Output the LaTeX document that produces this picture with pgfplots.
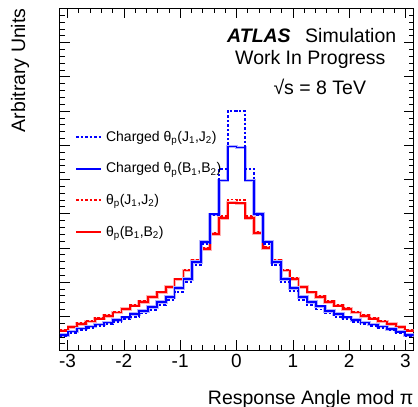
\documentclass[border=0pt]{standalone}
\usepackage{fontspec}
\setmainfont{Liberation Sans}
\usepackage{pgfplots}
\pgfplotsset{compat=1.18}
\usepackage{pgfplotstable}

\pgfplotstableread{
x        bj    bb    rj    rb
-3.14159 0.41  0.46  0.60  0.58
-2.98451 0.50  0.555 0.70  0.68
-2.82743 0.59  0.64  0.80  0.78
-2.67035 0.65  0.70  0.87  0.85
-2.51327 0.71  0.76  0.95  0.93
-2.35619 0.77  0.82  1.03  1.01
-2.19911 0.84  0.89  1.13  1.11
-2.04204 0.91  0.97  1.23  1.21
-1.88496 0.99  1.06  1.33  1.31
-1.72788 1.08  1.15  1.44  1.42
-1.57080 1.19  1.27  1.58  1.56
-1.41372 1.32  1.41  1.72  1.70
-1.25664 1.47  1.56  1.87  1.85
-1.09956 1.72  1.82  2.10  2.08
-0.94248 2.00  2.09  2.36  2.34
-0.78540 2.50  2.58  2.65  2.63
-0.62832 3.11  3.17  3.00  2.97
-0.47124 3.95  3.98  3.45  3.41
-0.31416 5.31  4.97  3.93  3.87
-0.15708 7.00  5.96  4.41  4.32
 0.00000 7.00  5.93  4.39  4.30
 0.15708 5.31  4.97  3.93  3.87
 0.31416 3.95  3.99  3.47  3.43
 0.47124 3.11  3.18  3.02  2.99
 0.62832 2.50  2.58  2.65  2.63
 0.78540 2.00  2.09  2.36  2.34
 0.94248 1.73  1.83  2.11  2.09
 1.09956 1.48  1.57  1.87  1.85
 1.25664 1.33  1.42  1.72  1.70
 1.41372 1.20  1.29  1.59  1.57
 1.57080 1.08  1.16  1.44  1.42
 1.72788 0.99  1.06  1.33  1.31
 1.88496 0.91  0.97  1.24  1.22
 2.04204 0.84  0.89  1.13  1.11
 2.19911 0.77  0.82  1.03  1.01
 2.35619 0.71  0.76  0.95  0.93
 2.51327 0.65  0.70  0.87  0.85
 2.67035 0.59  0.63  0.79  0.77
 2.82743 0.50  0.55  0.70  0.68
 2.98451 0.41  0.46  0.60  0.58
 3.14159 0.41  0.46  0.60  0.58
}\hist

\begin{document}
\begin{tikzpicture}
\path[use as bounding box] (-59.5pt,-56.5pt) rectangle (358.5pt,350.5pt);
\begin{axis}[
  at={(0pt,0pt)}, anchor=south west,
  scale only axis, width=354pt, height=342.2pt,
  xmin=-3.14159, xmax=3.14159, ymin=0, ymax=10,
  xtick={-3,-2,-1,0,1,2,3}, xticklabels={-3,-2,-1,0,1,2,3},
  minor x tick num=4,
  ytick={0,1,2,3,4,5,6,7,8,9,10}, yticklabels={}, minor y tick num=4,
  major tick length=10pt, minor tick length=5pt,
  tick style={black, line width=0.6pt},
  axis line style={line width=0.8pt},
  ticklabel style={font=\fontsize{19}{22}\selectfont},
  /pgf/number format/assume math mode=true,
  legend cell align=left,
  legend image code/.code={\draw[#1] (0pt,0pt) -- (25pt,0pt);},
  legend style={draw=none, fill=none, inner sep=0pt,
    at={(rel axis cs:0.044,0.646)}, anchor=north west,
    font=\fontsize{14}{16}\selectfont,
    row sep=17pt,
    nodes={inner sep=1.5pt},
    /tikz/every odd column/.append style={column sep=2.5pt}},
]
\addlegendimage{blue, line width=1.8pt, dash pattern=on 2.5pt off 2pt}
\addlegendentry{Charged θ\textsubscript{p}(J\textsubscript{1},J\textsubscript{2})}
\addlegendimage{blue, line width=1.8pt}
\addlegendentry{Charged θ\textsubscript{p}(B\textsubscript{1},B\textsubscript{2})}
\addlegendimage{red, line width=1.8pt, dash pattern=on 2.5pt off 2pt}
\addlegendentry{θ\textsubscript{p}(J\textsubscript{1},J\textsubscript{2})}
\addlegendimage{red, line width=1.8pt}
\addlegendentry{θ\textsubscript{p}(B\textsubscript{1},B\textsubscript{2})}

\addplot[const plot, draw=red!30, line width=3.6pt, forget plot] table[x=x,y=rb]{\hist};
\addplot[const plot, draw=red, line width=1.8pt, forget plot] table[x=x,y=rb]{\hist};
\addplot[const plot, draw=red, line width=1.8pt, dash pattern=on 2.5pt off 2pt, forget plot] table[x=x,y=rj]{\hist};
\addplot[const plot, draw=blue!30, line width=3.6pt, forget plot] table[x=x,y=bb]{\hist};
\addplot[const plot, draw=blue, line width=1.8pt, forget plot] table[x=x,y=bb]{\hist};
\addplot[const plot, draw=blue, line width=1.8pt, dash pattern=on 2.5pt off 2pt, forget plot] table[x=x,y=bj]{\hist};
\end{axis}
\begin{scope}[every node/.style={inner sep=0pt, font=\fontsize{19.5}{22}\selectfont}]
\node[anchor=base west] at (167.5pt,307.8pt) {\textbf{\textit{ATLAS}}};
\node[anchor=base west] at (245.5pt,307.8pt) {Simulation};
\node[anchor=base west] at (175.5pt,285.5pt) {Work In Progress};
\node[anchor=base west] at (213.8pt,256.2pt) {√s = 8 TeV};
\node[anchor=base east] at (354pt,-53.5pt) {Response Angle mod π};
\node[anchor=base east, rotate=90] at (-34.5pt,342.2pt) {Arbitrary Units};
\end{scope}
\end{tikzpicture}
\end{document}
